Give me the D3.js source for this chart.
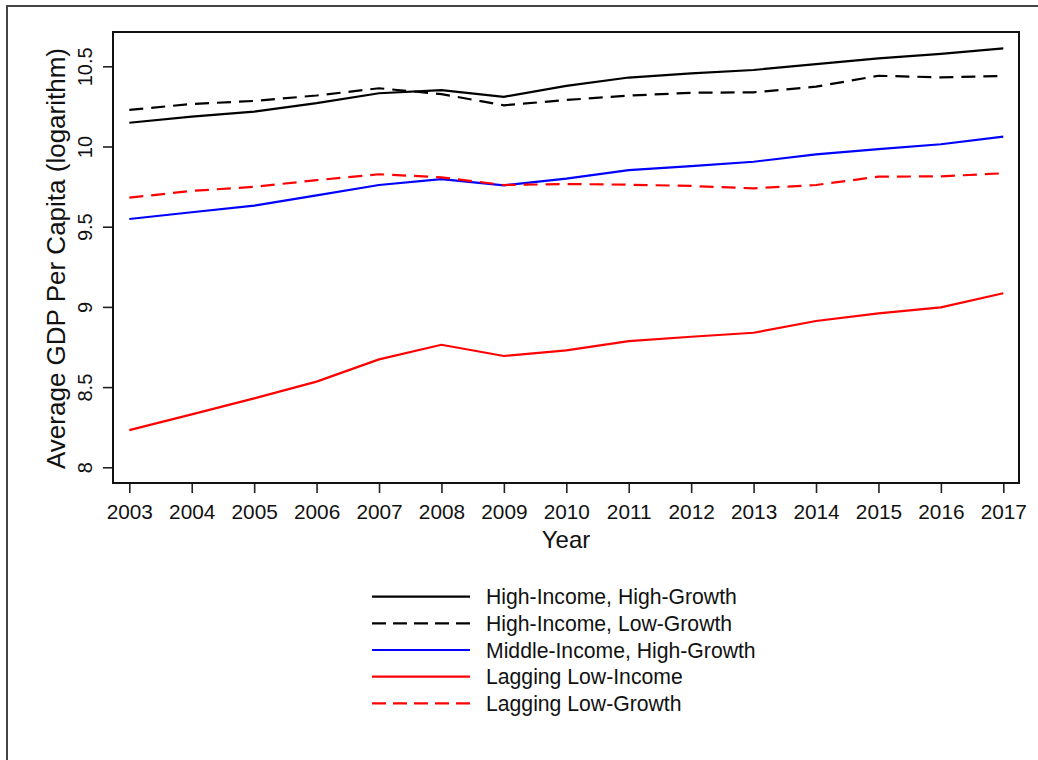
<!DOCTYPE html>
<html>
<head>
<meta charset="utf-8">
<script src="https://cdn.jsdelivr.net/npm/d3@7"></script>
<style>
  html, body { margin: 0; padding: 0; background: #fff; }
  svg { display: block; font-family: "Liberation Sans", Arial, sans-serif; }
</style>
</head>
<body>
<svg id="chart" width="1038" height="760"></svg>
<script>
// Years on the x axis
const years = [2003, 2004, 2005, 2006, 2007, 2008, 2009, 2010, 2011, 2012, 2013, 2014, 2015, 2016, 2017];

// Average log GDP per capita by country group
const highIncomeHighGrowth = [10.148, 10.186, 10.217, 10.270, 10.332, 10.352, 10.310, 10.378, 10.430, 10.456, 10.477, 10.514, 10.550, 10.577, 10.612];
const highIncomeLowGrowth  = [10.228, 10.265, 10.284, 10.318, 10.363, 10.327, 10.257, 10.290, 10.317, 10.335, 10.338, 10.373, 10.441, 10.431, 10.440];
const middleIncomeHighGrowth = [9.548, 9.590, 9.631, 9.695, 9.760, 9.797, 9.758, 9.800, 9.853, 9.878, 9.905, 9.951, 9.984, 10.014, 10.061];
const laggingLowIncome     = [8.232, 8.330, 8.430, 8.534, 8.673, 8.764, 8.694, 8.729, 8.787, 8.814, 8.839, 8.912, 8.960, 8.997, 9.085];
const laggingLowGrowth     = [9.681, 9.723, 9.749, 9.790, 9.827, 9.808, 9.760, 9.766, 9.762, 9.754, 9.739, 9.760, 9.812, 9.814, 9.833];

// Axis ticks
const yTicks = [8, 8.5, 9, 9.5, 10, 10.5];
const yTickLabels = ["8", "8.5", "9", "9.5", "10", "10.5"];

// Series names, in legend order
const seriesNames = [
  "High-Income, High-Growth",
  "High-Income, Low-Growth",
  "Middle-Income, High-Growth",
  "Lagging Low-Income",
  "Lagging Low-Growth"
];
const seriesValues = [highIncomeHighGrowth, highIncomeLowGrowth, middleIncomeHighGrowth, laggingLowIncome, laggingLowGrowth];
const seriesColors = ["#000000", "#000000", "#0000ff", "#ff0000", "#ff0000"];
const seriesDashed = [false, true, false, false, true];

const svg = d3.select("#chart");

// Outer graph frame (open to the right and bottom)
svg.append("rect")
  .attr("x", 7).attr("y", 6)
  .attr("width", 1100).attr("height", 800)
  .attr("fill", "none")
  .attr("stroke", "#444")
  .attr("stroke-width", 2);

// Plot region
const plot = { left: 113, right: 1019, top: 32, bottom: 483 };

const x = d3.scaleLinear().domain([2003, 2017]).range([129.3, 1003.3]);
const y = d3.scaleLinear().domain([8, 10.5]).range([467.3, 66.3]);

// Y axis
const yAxis = d3.axisLeft(y)
  .tickValues(yTicks)
  .tickFormat((d, i) => yTickLabels[i])
  .tickSize(10)
  .tickSizeOuter(0);

const gy = svg.append("g")
  .attr("transform", `translate(${plot.left},0)`)
  .call(yAxis);
gy.select(".domain").remove();
gy.selectAll(".tick line").attr("stroke", "#222").attr("stroke-width", 1.6);
gy.selectAll(".tick text")
  .attr("transform", "rotate(-90)")
  .attr("x", 0)
  .attr("y", -21)
  .attr("dy", 0)
  .attr("text-anchor", "middle")
  .attr("fill", "#111")
  .style("font-size", "20px")
  .style("font-family", "Liberation Sans, Arial, sans-serif");

// X axis
const xAxis = d3.axisBottom(x)
  .tickValues(years)
  .tickFormat(d3.format("d"))
  .tickSize(10)
  .tickSizeOuter(0);

const gx = svg.append("g")
  .attr("transform", `translate(0,${plot.bottom})`)
  .call(xAxis);
gx.select(".domain").remove();
gx.selectAll(".tick line").attr("stroke", "#222").attr("stroke-width", 1.6);
gx.selectAll(".tick text")
  .attr("y", 36)
  .attr("dy", 0)
  .attr("fill", "#111")
  .style("font-size", "20.8px")
  .style("font-family", "Liberation Sans, Arial, sans-serif");

// Plot box
svg.append("rect")
  .attr("x", plot.left).attr("y", plot.top)
  .attr("width", plot.right - plot.left)
  .attr("height", plot.bottom - plot.top)
  .attr("fill", "none")
  .attr("stroke", "#111")
  .attr("stroke-width", 2);

// Series lines
const line = d3.line()
  .x((d, i) => x(years[i]))
  .y(d => y(d));

seriesValues.forEach((vals, i) => {
  svg.append("path")
    .datum(vals)
    .attr("d", line)
    .attr("fill", "none")
    .attr("stroke", seriesColors[i])
    .attr("stroke-width", 2.2)
    .attr("stroke-dasharray", seriesDashed[i] ? "14,8" : null);
});

// Axis titles
svg.append("text")
  .attr("x", (plot.left + plot.right) / 2)
  .attr("y", 548)
  .attr("text-anchor", "middle")
  .attr("fill", "#111")
  .style("font-size", "24px")
  .text("Year");

svg.append("text")
  .attr("transform", `translate(65,${(plot.top + plot.bottom) / 2 + 1}) rotate(-90)`)
  .attr("text-anchor", "middle")
  .attr("fill", "#111")
  .style("font-size", "26px")
  .text("Average GDP Per Capita (logarithm)");

// Legend
const legend = svg.append("g");
const legendTop = 596.7, legendStep = 26.65;
seriesNames.forEach((name, i) => {
  const cy = legendTop + i * legendStep;
  legend.append("line")
    .attr("x1", 372).attr("x2", 470)
    .attr("y1", cy).attr("y2", cy)
    .attr("stroke", seriesColors[i])
    .attr("stroke-width", 2.2)
    .attr("stroke-dasharray", seriesDashed[i] ? "14,7" : null);
  legend.append("text")
    .attr("x", 486)
    .attr("y", cy + 7.5)
    .attr("fill", "#111")
    .style("font-size", "21.2px")
    .text(name);
});
</script>
</body>
</html>
